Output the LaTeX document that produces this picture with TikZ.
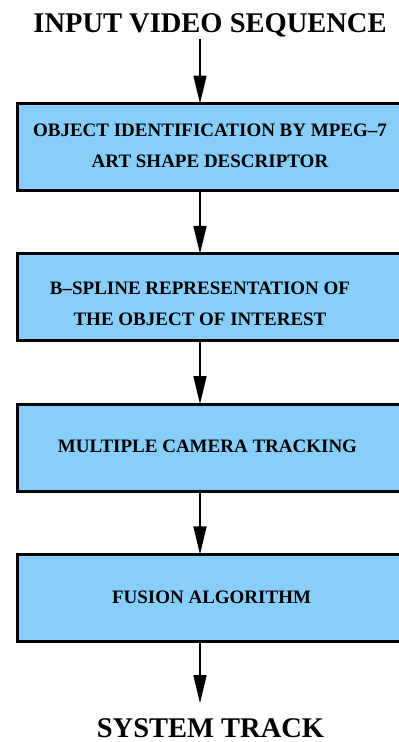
\documentclass[tikz,border=0pt]{standalone}
\usepackage{fontspec}
\setmainfont{Liberation Serif}
\usetikzlibrary{arrows.meta}
\definecolor{boxblue}{RGB}{135,206,250}
\begin{document}
\begin{tikzpicture}[x=1pt,y=-1pt,
  title/.style={font=\bfseries\fontsize{28.5}{30}\selectfont, inner sep=0pt, anchor=base},
  stage/.style={draw=black, line width=3pt, fill=boxblue, rectangle, minimum width=413pt, minimum height=87pt, inner sep=0pt, outer sep=0pt, anchor=north west},
  stagetext/.style={font=\bfseries\fontsize{19}{31}\selectfont, align=center, inner sep=0pt, anchor=base},
  flow/.style={line width=1.5pt, -{Triangle[length=28pt,width=13pt]}}]
\useasboundingbox (0,0) rectangle (399,742);
\clip (0,0) rectangle (399,742);
\coordinate (ax) at (200,0);
\node[title] (in) at (210,32) {INPUT VIDEO SEQUENCE};
\node[stage] (b1) at (17.5,103.5) {};
\node[stage] (b2) at (17.5,253.8) {};
\node[stage] (b3) at (17.5,404.1) {};
\node[stage] (b4) at (17.5,554.4) {};
\node[stagetext] (t1) at (210,167) {OBJECT IDENTIFICATION BY MPEG--7\\ART SHAPE DESCRIPTOR};
\node[stagetext] (t2) at (200,325.5) {B--SPLINE REPRESENTATION OF\\THE OBJECT OF INTEREST};
\node[stagetext] (t3) at (207.5,452) {MULTIPLE CAMERA TRACKING};
\node[stagetext] (t4) at (211.5,603) {FUSION ALGORITHM};
\node[title] (out) at (210.5,737) {SYSTEM TRACK};
\draw[flow, shorten <=2pt] (in.south -| ax) -- (b1.north -| ax);
\draw[flow] (b1.south -| ax) -- (b2.north -| ax);
\draw[flow] (b2.south -| ax) -- (b3.north -| ax);
\draw[flow] (b3.south -| ax) -- (b4.north -| ax);
\draw[flow, shorten >=14.7pt] (b4.south -| ax) -- (out.north -| ax);
\end{tikzpicture}
\end{document}
